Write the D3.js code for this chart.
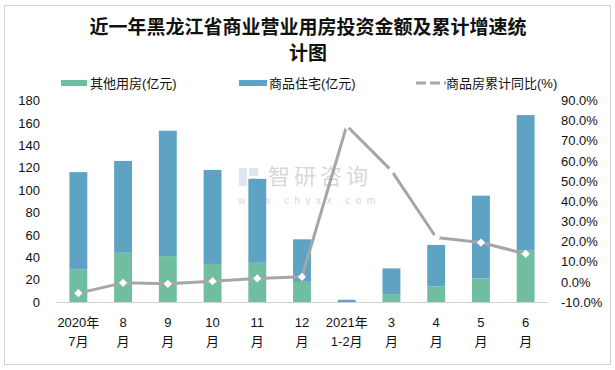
<!DOCTYPE html>
<html>
<head>
<meta charset="utf-8">
<script src="https://cdn.jsdelivr.net/npm/d3@7"></script>
<style>
  body { margin: 0; background: #fff; }
  svg text { font-family: "Liberation Sans", "Noto Sans CJK SC", sans-serif; }
</style>
</head>
<body>
<svg id="vis" width="615" height="370"></svg>
<script>
// 图表数据
const MESES_1 = ["2020年", "8", "9", "10", "11", "12", "2021年", "3", "4", "5", "6"];
const MESES_2 = ["7月", "月", "月", "月", "月", "月", "1-2月", "月", "月", "月", "月"];
const OTROS = [29, 44, 41, 34, 35, 18, 0, 7, 14, 21, 46];          // 其他用房(亿元)
const VIVIENDA = [87, 82, 112, 84, 75, 38, 2, 23, 37, 74, 121];    // 商品住宅(亿元)
const CRECIMIENTO = [-5.6, -0.5, -1.0, 0.3, 1.7, 2.5, 77.5, 55.2, 22.0, 19.5, 13.9]; // 同比(%)
const TICKS_IZQ = [0, 20, 40, 60, 80, 100, 120, 140, 160, 180];
const TICKS_DER = [-10, 0, 10, 20, 30, 40, 50, 60, 70, 80, 90];

const VERDE = "#70bd9f";
const AZUL = "#5fa3c4";
const GRIS = "#a6a6a6";

const SVG = d3.select("#vis");

// marco exterior
SVG.append("rect")
  .attr("x", 4.5).attr("y", 5.5).attr("width", 606).attr("height", 359)
  .attr("fill", "#fff").attr("stroke", "#a0a0a0").attr("stroke-dasharray", "1,1");

// título
const titulo = SVG.append("text")
  .attr("text-anchor", "middle")
  .style("font-family", "'Noto Sans CJK SC', sans-serif")
  .style("font-weight", "700")
  .style("font-size", "19px")
  .attr("fill", "#111");
titulo.append("tspan").attr("x", 308).attr("y", 34).text("近一年黑龙江省商业营业用房投资金额及累计增速统");
titulo.append("tspan").attr("x", 308).attr("y", 60).text("计图");

// escalas
const idx = d3.range(MESES_1.length);
const x = d3.scaleBand().domain(idx).range([56, 548]).paddingInner(0.6).paddingOuter(0.3);
const yIzq = d3.scaleLinear().domain([0, 180]).range([302, 100.5]);
const yDer = d3.scaleLinear().domain([-10, 90]).range([302, 100.5]);

// marca de agua
const agua = SVG.append("g").attr("opacity", 0.55);
agua.append("rect").attr("x", 239).attr("y", 168).attr("width", 8).attr("height", 18).attr("fill", "#c5d3e3");
agua.append("rect").attr("x", 249).attr("y", 168).attr("width", 9).attr("height", 8).attr("fill", "#c5d3e3");
agua.append("rect").attr("x", 251).attr("y", 178).attr("width", 7).attr("height", 8).attr("fill", "#d0d0d0");
agua.append("text").attr("x", 268).attr("y", 184)
  .style("font-family", "'Noto Sans CJK SC', sans-serif").style("font-size", "22px")
  .attr("fill", "#b8b8b8").attr("letter-spacing", "4px").text("智研咨询");
agua.append("text").attr("x", 238).attr("y", 204)
  .style("font-size", "10px").attr("fill", "#b8b8b8").attr("letter-spacing", "5.5px")
  .text("www.chyxx.com");

// barras apiladas
const pilas = d3.stack().keys(["otros", "vivienda"])(
  idx.map(i => ({ otros: OTROS[i], vivienda: VIVIENDA[i] }))
);
const colores = [VERDE, AZUL];
SVG.append("g").selectAll("g")
  .data(pilas)
  .join("g")
  .attr("fill", (d, i) => colores[i])
  .selectAll("rect")
  .data(d => d.map((v, i) => ({ v, i })))
  .join("rect")
  .attr("x", d => x(d.i))
  .attr("width", x.bandwidth())
  .attr("y", d => yIzq(d.v[1]))
  .attr("height", d => yIzq(d.v[0]) - yIzq(d.v[1]));

// línea base
SVG.append("line")
  .attr("x1", 56).attr("x2", 548).attr("y1", 302.5).attr("y2", 302.5)
  .attr("stroke", "#d0d0d0").attr("stroke-width", 1);

// eje izquierdo
const ejeIzq = SVG.append("g")
  .attr("transform", "translate(40,0)")
  .call(d3.axisLeft(yIzq).tickValues(TICKS_IZQ).tickSize(0).tickPadding(0));
ejeIzq.select(".domain").remove();
ejeIzq.selectAll("text").style("font-size", "13px").attr("fill", "#111");

// eje derecho
const ejeDer = SVG.append("g")
  .attr("transform", "translate(561,0)")
  .call(d3.axisRight(yDer).tickValues(TICKS_DER).tickSize(0).tickPadding(0)
    .tickFormat(d => d.toFixed(1) + "%"));
ejeDer.select(".domain").remove();
ejeDer.selectAll("text").style("font-size", "13px").attr("fill", "#111");

// etiquetas del eje x
const etiquetas = SVG.append("g").selectAll("text")
  .data(idx)
  .join("text")
  .attr("text-anchor", "middle")
  .style("font-size", "13px")
  .attr("fill", "#111");
etiquetas.append("tspan")
  .attr("x", i => x(i) + x.bandwidth() / 2).attr("y", 327)
  .text(i => MESES_1[i]);
etiquetas.append("tspan")
  .attr("x", i => x(i) + x.bandwidth() / 2).attr("y", 346)
  .text(i => MESES_2[i]);

// línea de crecimiento
const linea = d3.line()
  .x((d, i) => x(i) + x.bandwidth() / 2)
  .y(d => yDer(d));
SVG.append("path")
  .datum(CRECIMIENTO)
  .attr("d", linea)
  .attr("fill", "none")
  .attr("stroke", GRIS)
  .attr("stroke-width", 3)
  .attr("stroke-linejoin", "round");

SVG.append("g").selectAll("path")
  .data(CRECIMIENTO)
  .join("path")
  .attr("d", d3.symbol(d3.symbolSquare, 34))
  .attr("transform", (d, i) => `translate(${x(i) + x.bandwidth() / 2},${yDer(d)}) rotate(45)`)
  .attr("fill", "#fff");

// leyenda
const leyenda = SVG.append("g").style("font-family", "'Noto Sans CJK SC', sans-serif");
leyenda.append("rect").attr("x", 61).attr("y", 80).attr("width", 26).attr("height", 6).attr("fill", VERDE);
leyenda.append("text").attr("x", 90).attr("y", 88).style("font-size", "13px").attr("fill", "#111").text("其他用房(亿元)");
leyenda.append("rect").attr("x", 239).attr("y", 80).attr("width", 28).attr("height", 6).attr("fill", AZUL);
leyenda.append("text").attr("x", 269).attr("y", 88).style("font-size", "13px").attr("fill", "#111").text("商品住宅(亿元)");
leyenda.append("line").attr("x1", 416).attr("x2", 446).attr("y1", 83).attr("y2", 83)
  .attr("stroke", GRIS).attr("stroke-width", 3).attr("stroke-dasharray", "10,4");
leyenda.append("text").attr("x", 446).attr("y", 88).style("font-size", "13px").attr("fill", "#111").text("商品房累计同比(%)");
</script>
</body>
</html>
